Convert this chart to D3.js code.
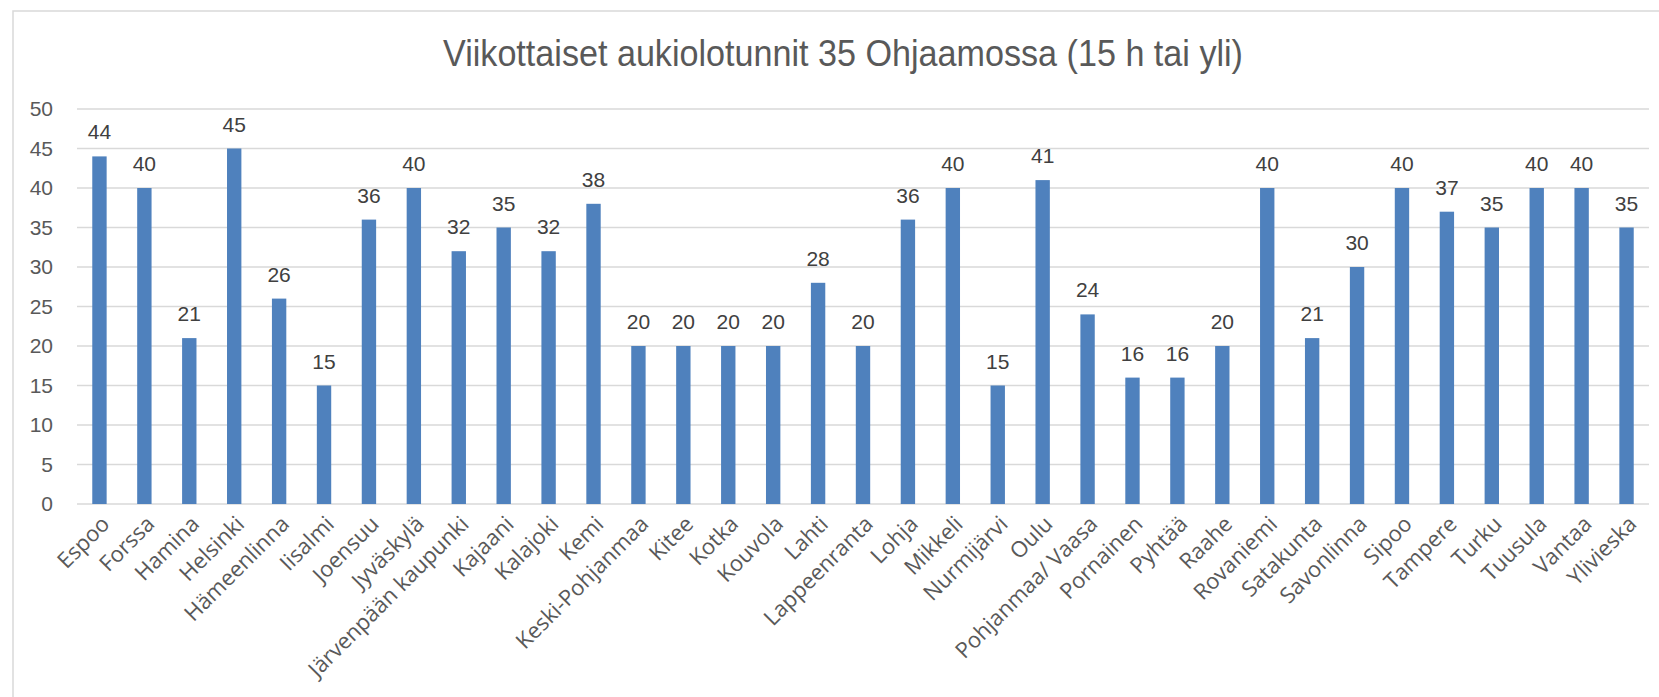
<!DOCTYPE html>
<html>
<head>
<meta charset="utf-8">
<script src="https://cdn.jsdelivr.net/npm/d3@7"></script>
<style>
  html, body { margin: 0; padding: 0; background: #fff; }
  svg { display: block; }
</style>
</head>
<body>
<div class="chart"></div>
<script>
// Categories (cities / regions)
const cities = [
    "Espoo", "Forssa", "Hamina", "Helsinki", "Hämeenlinna", "Iisalmi", "Joensuu",
    "Jyväskylä", "Järvenpään kaupunki", "Kajaani", "Kalajoki", "Kemi",
    "Keski-Pohjanmaa", "Kitee", "Kotka", "Kouvola", "Lahti", "Lappeenranta",
    "Lohja", "Mikkeli", "Nurmijärvi", "Oulu", "Pohjanmaa/ Vaasa", "Pornainen",
    "Pyhtää", "Raahe", "Rovaniemi", "Satakunta", "Savonlinna", "Sipoo",
    "Tampere", "Turku", "Tuusula", "Vantaa", "Ylivieska"
];

// Weekly opening hours
const hours = [
    44, 40, 21, 45, 26, 15, 36,
    40, 32, 35, 32, 38,
    20, 20, 20, 20, 28, 20,
    36, 40, 15, 41, 24, 16,
    16, 20, 40, 21, 30, 40,
    37, 35, 40, 40, 35
];

const yTicks = [0, 5, 10, 15, 20, 25, 30, 35, 40, 45, 50];
const title = "Viikottaiset aukiolotunnit 35 Ohjaamossa (15 h tai yli)";

function drawChart() {
    const W = 1659, H = 697;
    const margin = { top: 109, right: 10, bottom: 193, left: 77 };
    const width = 1649 - margin.left;
    const height = H - margin.top - margin.bottom;

    const font = "'Liberation Sans', Arial, sans-serif";
    const textColor = "#595959";

    const root = d3.select(".chart").append("svg")
        .attr("width", W)
        .attr("height", H);

    // Chart frame
    root.append("rect")
        .attr("x", 13)
        .attr("y", 11)
        .attr("width", W + 20)
        .attr("height", H + 20)
        .attr("fill", "none")
        .attr("stroke", "#d9d9d9")
        .attr("stroke-width", 1.5);

    // Title (squeezed to look like the narrow original face)
    root.append("text")
        .attr("x", 843)
        .attr("y", 66)
        .attr("text-anchor", "middle")
        .attr("textLength", 800)
        .attr("lengthAdjust", "spacingAndGlyphs")
        .style("font-family", font)
        .style("font-size", "37px")
        .attr("fill", textColor)
        .text(title);

    const svg = root.append("g")
        .attr("transform", `translate(${margin.left},${margin.top})`);

    const x = d3.scaleBand()
        .domain(cities)
        .range([0, width])
        .paddingInner(0.68)
        .paddingOuter(0.34);

    const y = d3.scaleLinear()
        .domain([0, 50])
        .range([height, 0]);

    // Gridlines
    svg.append("g")
        .selectAll("line")
        .data(yTicks)
        .enter().append("line")
        .attr("x1", 0)
        .attr("x2", width)
        .attr("y1", d => y(d))
        .attr("y2", d => y(d))
        .attr("stroke", "#d9d9d9")
        .attr("stroke-width", 1.5);

    // Y axis labels
    const yAxis = svg.append("g")
        .call(d3.axisLeft(y).tickValues(yTicks).tickSize(0).tickPadding(24));
    yAxis.select(".domain").remove();
    yAxis.selectAll("text")
        .style("font-family", font)
        .style("font-size", "21px")
        .attr("fill", textColor);

    // Bars
    svg.selectAll("rect.bar")
        .data(cities)
        .enter().append("rect")
        .attr("class", "bar")
        .attr("x", d => x(d))
        .attr("y", (d, i) => y(hours[i]))
        .attr("width", x.bandwidth())
        .attr("height", (d, i) => height - y(hours[i]))
        .attr("fill", "#4f81bd");

    // Value labels
    svg.selectAll("text.value")
        .data(cities)
        .enter().append("text")
        .attr("class", "value")
        .attr("x", d => x(d) + x.bandwidth() / 2)
        .attr("y", (d, i) => y(hours[i]) - 17)
        .attr("text-anchor", "middle")
        .style("font-family", font)
        .style("font-size", "21px")
        .attr("fill", "#404040")
        .text((d, i) => hours[i]);

    // X axis labels, rotated
    const xAxis = svg.append("g")
        .attr("transform", `translate(0,${height})`)
        .call(d3.axisBottom(x).tickSize(0).tickPadding(0));
    xAxis.select(".domain").remove();
    xAxis.selectAll("text")
        .attr("transform", "translate(6,16) rotate(-45)")
        .attr("dy", "0.35em")
        .style("text-anchor", "end")
        .style("font-family", "'Open Sans', sans-serif")
        .style("font-size", "22px")
        .attr("fill", textColor);
}

drawChart();
</script>
</body>
</html>
